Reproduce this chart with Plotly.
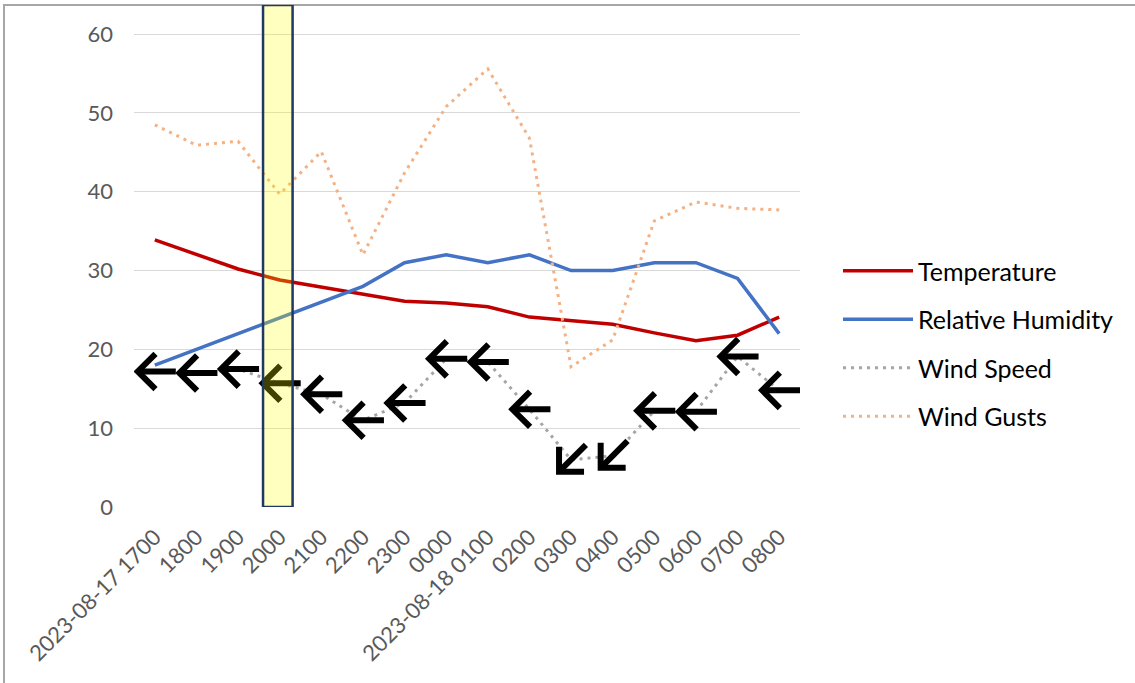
import math
import plotly.graph_objects as go

# ---------------- data ----------------
categories = ["2023-08-17 1700", "1800", "1900", "2000", "2100", "2200", "2300", "0000",
              "2023-08-18 0100", "0200", "0300", "0400", "0500", "0600", "0700", "0800"]
temperature = [33.9, 32.0, 30.2, 28.8, 27.9, 26.9, 26.1, 25.9, 25.4, 24.1, 23.6, 23.2, 22.1, 21.1, 21.8, 24.1]
humidity = [18, 20, 22, 24, 26, 28, 31, 32, 31, 32, 30, 30, 31, 31, 29, 22]
wind_speed = [17.2, 17.0, 17.5, 15.7, 14.3, 11.0, 13.2, 18.8, 18.4, 12.4, 6.0, 6.5, 12.2, 12.1, 19.1, 14.8]
wind_gusts = [48.5, 45.9, 46.4, 39.7, 45.1, 32.0, 42.4, 50.8, 55.6, 46.8, 17.8, 21.2, 36.3, 38.7, 37.9, 37.7]
wind_from = ["E", "E", "E", "E", "E", "E", "E", "E", "E", "E", "NE", "NE", "E", "E", "E", "E"]
highlight_category = "2000"
y_ticks = [0, 10, 20, 30, 40, 50, 60]

# ---------------- layout constants ----------------
W, H = 1135, 683
ML, MR, MT, MB = 134, 335, 5, 176
Y_TOP = 63.7
PLOT_W = W - ML - MR
PLOT_H = H - MT - MB
PX_X = PLOT_W / len(categories)
PX_Y = PLOT_H / Y_TOP

xs = list(range(len(categories)))

COMPASS = {"N": 0, "NE": 45, "E": 90, "SE": 135, "S": 180, "SW": 225, "W": 270, "NW": 315}

# arrow glyphs built from the wind speed points and directions
ax_x, ax_y = [], []
TIP, TAIL, ARM = 17, 21, 25
for i, (v, d) in enumerate(zip(wind_speed, wind_from)):
    to_compass = (COMPASS[d] + 180) % 360
    th = math.radians(90 - to_compass)
    c, s = math.cos(th), math.sin(th)

    def pt(px, py):
        return i + px / PX_X, v + py / PX_Y

    tip = pt(TIP * c, TIP * s)
    tail = pt(-TAIL * c, -TAIL * s)
    arms = []
    for sgn in (1, -1):
        a = th + math.pi + sgn * math.pi / 4
        arms.append(pt(TIP * c + ARM * math.cos(a), TIP * s + ARM * math.sin(a)))
    for p in (arms[0], tip, arms[1]):
        ax_x.append(p[0]); ax_y.append(p[1])
    ax_x.append(None); ax_y.append(None)
    for p in (tip, tail):
        ax_x.append(p[0]); ax_y.append(p[1])
    ax_x.append(None); ax_y.append(None)

fig = go.Figure()
fig.add_trace(go.Scatter(x=xs, y=temperature, name="Temperature", mode="lines",
                         line=dict(color="#C00000", width=3.5), legendgroup="a"))
fig.add_trace(go.Scatter(x=xs, y=humidity, name="Relative Humidity", mode="lines",
                         line=dict(color="#4472C4", width=3.5), legendgroup="b"))
fig.add_trace(go.Scatter(x=xs, y=wind_speed, name="Wind Speed", mode="lines",
                         line=dict(color="#A5A5A5", width=3, dash="3px,5px"), legendgroup="c"))
fig.add_trace(go.Scatter(x=xs, y=wind_gusts, name="Wind Gusts", mode="lines",
                         line=dict(color="#F4B183", width=3, dash="3px,5px"), legendgroup="d"))
fig.add_trace(go.Scatter(x=ax_x, y=ax_y, mode="lines", showlegend=False, hoverinfo="skip",
                         line=dict(color="#000000", width=6)))

hi = categories.index(highlight_category)
fig.add_shape(type="rect", xref="paper", yref="paper", x0=(4 - ML) / PLOT_W, x1=2, y0=-1, y1=1.0,
              line=dict(color="#A6A6A6", width=2), fillcolor="rgba(0,0,0,0)", layer="above")
fig.add_shape(type="rect", xref="x", yref="y", x0=hi - 0.40, x1=hi + 0.31, y0=0, y1=Y_TOP,
              line=dict(color="#1F3864", width=2.5), fillcolor="rgba(255,255,0,0.25)", layer="above")

fig.update_layout(
    width=W, height=H,
    margin=dict(l=ML, r=MR, t=MT, b=MB),
    paper_bgcolor="white", plot_bgcolor="white",
    font=dict(family="Lato, sans-serif", color="#595959"),
    showlegend=True,
    legend=dict(x=(838 - ML) / PLOT_W, xanchor="left", y=(H - MB - 343.5) / PLOT_H,
                yanchor="middle", font=dict(size=25, color="#000000", family="Lato, sans-serif"),
                tracegroupgap=13, itemwidth=70, bgcolor="rgba(0,0,0,0)"),
    xaxis=dict(range=[-0.5, len(categories) - 0.5], tickmode="array", tickvals=xs, ticktext=categories,
               tickangle=-45, showgrid=False, zeroline=False, showline=False, ticks="",
               tickfont=dict(size=22, color="#595959"), ticklabelstandoff=12, fixedrange=True),
    yaxis=dict(range=[0, Y_TOP], tickmode="array", tickvals=y_ticks, showgrid=True,
               gridcolor="#D9D9D9", gridwidth=1.3, zeroline=False, showline=False, ticks="",
               tickfont=dict(size=22, color="#595959"), ticklabelstandoff=20, fixedrange=True),
)

fig.write_html("out.html")
